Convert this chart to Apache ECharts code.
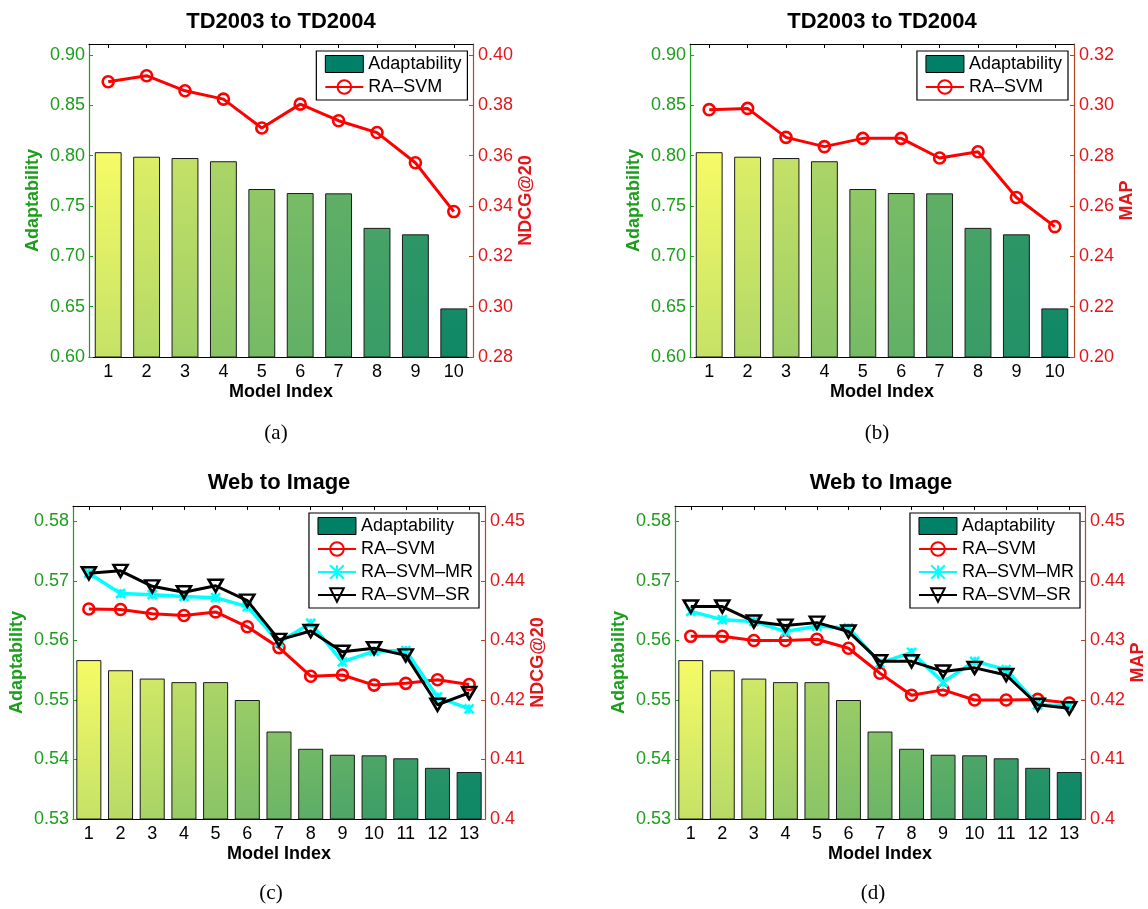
<!DOCTYPE html>
<html>
<head>
<meta charset="utf-8">
<script src="https://cdn.jsdelivr.net/npm/echarts@6/dist/echarts.min.js"></script>
<style>
html,body{margin:0;padding:0;background:#ffffff;}
#chart{width:1148px;height:909px;}
</style>
</head>
<body>
<div id="chart"></div>
<script>
// ---------------- data ----------------
const tdCategories = ['1','2','3','4','5','6','7','8','9','10'];
const webCategories = ['1','2','3','4','5','6','7','8','9','10','11','12','13'];

const tdAdaptability = [0.8035, 0.7990, 0.7977, 0.7945, 0.7669, 0.7629, 0.7626, 0.7283, 0.7219, 0.6483];
const tdNdcg20 = [0.3894, 0.3918, 0.3858, 0.3825, 0.3710, 0.3805, 0.3739, 0.3692, 0.3572, 0.3378];
const tdMap = [0.2983, 0.2988, 0.2873, 0.2836, 0.2869, 0.2869, 0.2791, 0.2816, 0.2634, 0.2518];

const webAdaptability = [0.5567, 0.5550, 0.5536, 0.5530, 0.5530, 0.5500, 0.5447, 0.5418, 0.5408, 0.5407, 0.5402, 0.5386, 0.5379];
const webNdcgSvm = [0.4353, 0.4352, 0.4345, 0.4342, 0.4348, 0.4323, 0.4288, 0.4240, 0.4242, 0.4225, 0.4228, 0.4234, 0.4226];
const webNdcgMr  = [0.4413, 0.4379, 0.4377, 0.4374, 0.4372, 0.4357, 0.4297, 0.4329, 0.4264, 0.4282, 0.4283, 0.4205, 0.4185];
const webNdcgSr  = [0.4413, 0.4417, 0.4391, 0.4381, 0.4392, 0.4367, 0.4301, 0.4316, 0.4281, 0.4287, 0.4275, 0.4192, 0.4212];
const webMapSvm  = [0.4307, 0.4307, 0.4300, 0.4300, 0.4302, 0.4287, 0.4245, 0.4208, 0.4217, 0.4200, 0.4200, 0.4201, 0.4195];
const webMapMr   = [0.4349, 0.4335, 0.4332, 0.4315, 0.4324, 0.4321, 0.4262, 0.4280, 0.4230, 0.4265, 0.4251, 0.4192, 0.4190];
const webMapSr   = [0.4357, 0.4357, 0.4332, 0.4325, 0.4330, 0.4315, 0.4265, 0.4265, 0.4248, 0.4254, 0.4242, 0.4192, 0.4186];

const tdLeftTicks = [0.60, 0.65, 0.70, 0.75, 0.80, 0.85, 0.90];
const tdNdcgTicks = [0.28, 0.30, 0.32, 0.34, 0.36, 0.38, 0.40];
const tdMapTicks = [0.20, 0.22, 0.24, 0.26, 0.28, 0.30, 0.32];
const webLeftTicks = [0.53, 0.54, 0.55, 0.56, 0.57, 0.58];
const webRightTicks = [0.40, 0.41, 0.42, 0.43, 0.44, 0.45];

// ---------------- styling ----------------
const FONT = 'Liberation Sans, Arial, Helvetica, sans-serif';
const GREEN = '#1c9e1c';
const RED = '#e3161b';
const RIGHT_AXIS = '#b5471f';

function summer(t) {
  const r = Math.round(255 * t), g = Math.round(255 * (0.5 + 0.5 * t)), b = 102;
  return 'rgb(' + r + ',' + g + ',' + b + ')';
}

const lineKinds = {
  svm: { color: '#ff0000', width: 3, symbol: 'circle', size: 11, rotate: 0, border: 2.6 },
  mr:  { color: '#00ffff', width: 3.5, symbol: 'path://M0,0L10,10M10,0L0,10M5,0L5,10', size: 9, rotate: 0, border: 2.6 },
  sr:  { color: '#000000', width: 3, symbol: 'triangle', size: [14, 12], rotate: 180, border: 2.6 }
};

const panels = [
  { grid: {left: 89, top: 44, width: 384, height: 313}, title: 'TD2003 to TD2004', caption: '(a)',
    titlePos: [281, 22], capPos: [276, 433], cats: tdCategories, bars: tdAdaptability, barWidth: '70%',
    left: {min: 0.6, max: 0.911, ticks: tdLeftTicks, fmt: v => v.toFixed(2)},
    right: {min: 0.28, max: 0.4044, ticks: tdNdcgTicks, fmt: v => v.toFixed(2), name: 'NDCG@20'},
    lines: [{name: 'RA–SVM', data: tdNdcg20, kind: 'svm'}], legend: {right: 680.6, top: 51} },
  { grid: {left: 690, top: 44, width: 384, height: 313}, title: 'TD2003 to TD2004', caption: '(b)',
    titlePos: [882, 22], capPos: [877, 433], cats: tdCategories, bars: tdAdaptability, barWidth: '70%',
    left: {min: 0.6, max: 0.911, ticks: tdLeftTicks, fmt: v => v.toFixed(2)},
    right: {min: 0.20, max: 0.3244, ticks: tdMapTicks, fmt: v => v.toFixed(2), name: 'MAP'},
    lines: [{name: 'RA–SVM', data: tdMap, kind: 'svm'}], legend: {right: 80, top: 51} },
  { grid: {left: 73, top: 506, width: 412, height: 313}, title: 'Web to Image', caption: '(c)',
    titlePos: [279, 483], capPos: [271, 893], cats: webCategories, bars: webAdaptability, barWidth: '79%',
    left: {min: 0.53, max: 0.5826, ticks: webLeftTicks, fmt: v => v.toFixed(2)},
    right: {min: 0.40, max: 0.4526, ticks: webRightTicks, fmt: v => String(+v.toFixed(2)), name: 'NDCG@20'},
    lines: [{name: 'RA–SVM', data: webNdcgSvm, kind: 'svm'},
            {name: 'RA–SVM–MR', data: webNdcgMr, kind: 'mr'},
            {name: 'RA–SVM–SR', data: webNdcgSr, kind: 'sr'}], legend: {right: 669, top: 513} },
  { grid: {left: 675, top: 506, width: 412, height: 313}, title: 'Web to Image', caption: '(d)',
    titlePos: [881, 483], capPos: [873, 893], cats: webCategories, bars: webAdaptability, barWidth: '79%',
    left: {min: 0.53, max: 0.5826, ticks: webLeftTicks, fmt: v => v.toFixed(2)},
    right: {min: 0.40, max: 0.4526, ticks: webRightTicks, fmt: v => String(+v.toFixed(2)), name: 'MAP'},
    lines: [{name: 'RA–SVM', data: webMapSvm, kind: 'svm'},
            {name: 'RA–SVM–MR', data: webMapMr, kind: 'mr'},
            {name: 'RA–SVM–SR', data: webMapSr, kind: 'sr'}], legend: {right: 68, top: 513} }
];

const option = {
  animation: false,
  backgroundColor: '#ffffff',
  textStyle: { fontFamily: FONT },
  grid: [], xAxis: [], yAxis: [], series: [], legend: [], graphic: []
};

panels.forEach((p, i) => {
  option.grid.push(Object.assign({containLabel: false}, p.grid));
  const xBase = {
    type: 'category', gridIndex: i, data: p.cats,
    axisLine: {show: true, lineStyle: {color: '#000', width: 1}},
    axisTick: {show: true, inside: true, alignWithLabel: true, length: 4, lineStyle: {color: '#000'}},
    splitLine: {show: false}
  };
  option.xAxis.push(Object.assign({}, xBase, {
    position: 'bottom',
    axisLabel: {color: '#000', fontSize: 18, fontFamily: FONT, margin: 6, interval: 0},
    name: 'Model Index', nameLocation: 'middle', nameGap: 26,
    nameTextStyle: {color: '#000', fontSize: 18, fontWeight: 'bold', fontFamily: FONT}
  }));
  option.xAxis.push(Object.assign({}, xBase, {position: 'top', axisLabel: {show: false}}));

  option.yAxis.push({
    type: 'value', gridIndex: i, position: 'left', min: p.left.min, max: p.left.max,
    axisLine: {show: true, lineStyle: {color: GREEN, width: 1.2}},
    axisTick: {show: true, inside: true, length: 4, lineStyle: {color: GREEN}, customValues: p.left.ticks},
    axisLabel: {color: GREEN, fontSize: 18, fontFamily: FONT, margin: 4, customValues: p.left.ticks, formatter: p.left.fmt},
    splitLine: {show: false},
    name: 'Adaptability', nameLocation: 'middle', nameRotate: 90, nameGap: 47,
    nameTextStyle: {color: GREEN, fontSize: 18, fontWeight: 'bold', fontFamily: FONT}
  });
  option.yAxis.push({
    type: 'value', gridIndex: i, position: 'right', min: p.right.min, max: p.right.max,
    axisLine: {show: true, lineStyle: {color: RIGHT_AXIS, width: 1.2}},
    axisTick: {show: true, inside: true, length: 4, lineStyle: {color: RIGHT_AXIS}, customValues: p.right.ticks},
    axisLabel: {color: RED, fontSize: 18, fontFamily: FONT, margin: 5, customValues: p.right.ticks, formatter: p.right.fmt},
    splitLine: {show: false},
    name: p.right.name, nameLocation: 'middle', nameRotate: 90, nameGap: 44,
    nameTextStyle: {color: RED, fontSize: 18, fontWeight: 'bold', fontFamily: FONT}
  });

  const n = p.bars.length;
  option.series.push({
    type: 'bar', name: 'Adaptability', xAxisIndex: 2 * i, yAxisIndex: 2 * i,
    barWidth: p.barWidth, z: 2,
    itemStyle: {color: '#008066', borderColor: '#1a1a1a', borderWidth: 1},
    data: p.bars.map((v, k) => {
      const t = 0.965 - (0.965 - 0.08) * k / (n - 1);
      return {
        value: v,
        itemStyle: {
          color: new echarts.graphic.LinearGradient(0, 0, 0, 1, [
            {offset: 0, color: summer(t)},
            {offset: 1, color: summer(t * 0.8)}
          ])
        }
      };
    })
  });

  p.lines.forEach((ln, k) => {
    const s = lineKinds[ln.kind];
    option.series.push({
      type: 'line', name: ln.name, xAxisIndex: 2 * i, yAxisIndex: 2 * i + 1,
      data: ln.data, z: 5 + k,
      symbol: s.symbol, symbolSize: s.size, symbolRotate: s.rotate, showAllSymbol: true,
      lineStyle: {color: s.color, width: s.width},
      itemStyle: {color: 'rgba(255,255,255,0)', borderColor: s.color, borderWidth: s.border},
      emphasis: {disabled: true}
    });
  });

  option.legend.push({
    right: p.legend.right, top: p.legend.top, orient: 'vertical',
    backgroundColor: '#ffffff', borderColor: '#000', borderWidth: 1.2,
    padding: [4, 6, 4, 8], itemGap: 5, itemWidth: 38, itemHeight: 17,
    textStyle: {color: '#000', fontSize: 18, fontFamily: FONT},
    selectedMode: false, z: 20,
    data: [{name: 'Adaptability', icon: 'rect', itemStyle: {color: '#008066', borderColor: '#000', borderWidth: 1}}]
      .concat(p.lines.map(l => ({name: l.name})))
  });

  option.graphic.push({
    type: 'text', x: p.titlePos[0], y: p.titlePos[1], z: 30,
    style: {text: p.title, fill: '#000', font: 'bold 22px ' + FONT, textAlign: 'center', textVerticalAlign: 'middle'}
  });
  option.graphic.push({
    type: 'text', x: p.capPos[0], y: p.capPos[1], z: 30,
    style: {text: p.caption, fill: '#000', font: '21px Liberation Serif, Times New Roman, serif', textAlign: 'center', textVerticalAlign: 'middle'}
  });
});

const chart = echarts.init(document.getElementById('chart'), null, {renderer: 'canvas'});
chart.setOption(option);
</script>
</body>
</html>
